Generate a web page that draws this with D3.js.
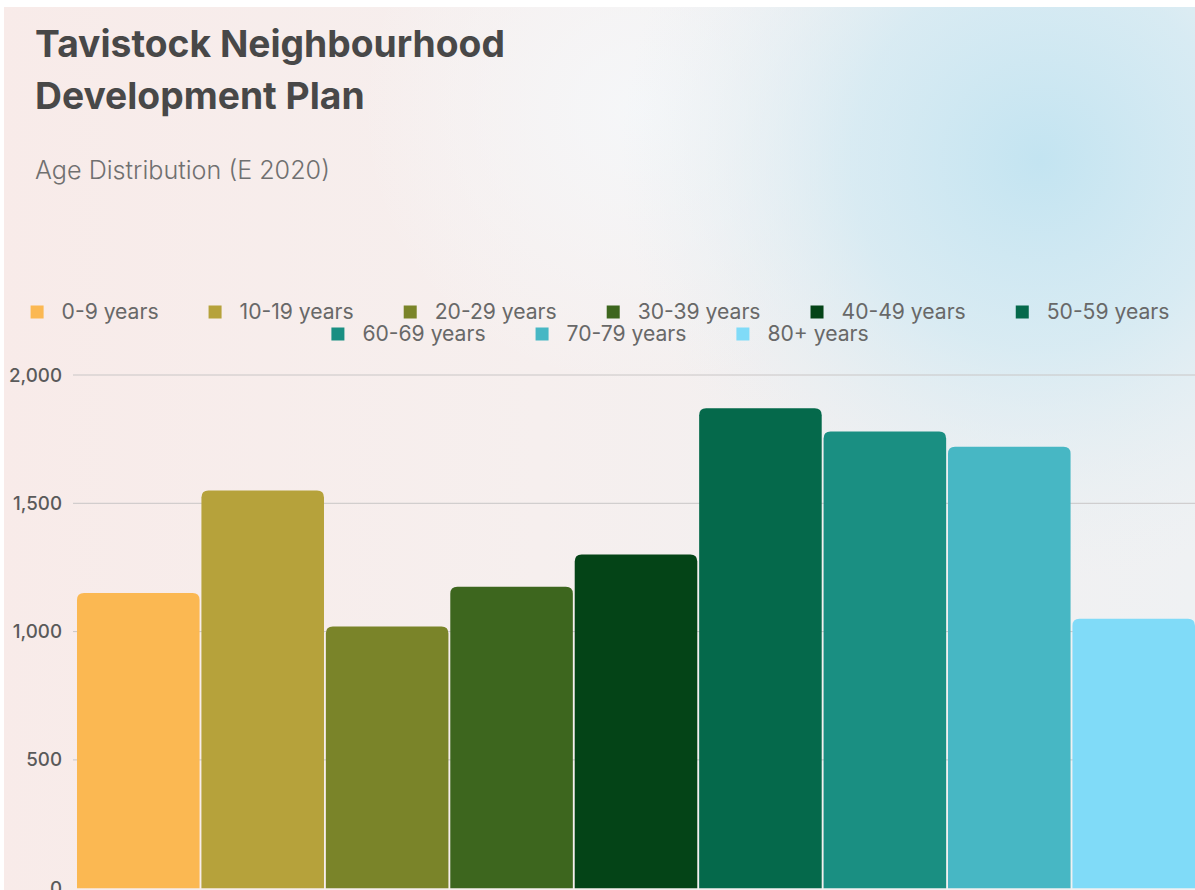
<!DOCTYPE html>
<html>
<head>
<meta charset="utf-8">
<script src="https://cdn.jsdelivr.net/npm/d3@7"></script>
<style>
  html, body { margin: 0; padding: 0; background: #ffffff; }
  svg { display: block; }
</style>
</head>
<body>
<svg id="chart" width="1195" height="890"></svg>
<script>
// ---- data ----
const categories = ["0-9 years", "10-19 years", "20-29 years", "30-39 years", "40-49 years",
                    "50-59 years", "60-69 years", "70-79 years", "80+ years"];
const values = [1150, 1550, 1020, 1175, 1300, 1870, 1780, 1720, 1050];
const colors = ["#fbb852", "#b6a23b", "#7a8429", "#3d661e", "#044417",
                "#05694b", "#1a8f82", "#47b7c4", "#80dbf8"];
const yTicks = [0, 500, 1000, 1500, 2000];
const titleLines = ["Tavistock Neighbourhood", "Development Plan"];
const subtitle = "Age Distribution (E 2020)";

// ---- setup ----
const W = 1195, H = 890;
const svg = d3.select("#chart");
const defs = svg.append("defs");

const rg = defs.append("radialGradient").attr("id", "blueBlob")
  .attr("gradientUnits", "userSpaceOnUse").attr("cx", 1040).attr("cy", 160).attr("r", 420);
rg.append("stop").attr("offset", "0%").attr("stop-color", "#c3e4f1").attr("stop-opacity", 1);
rg.append("stop").attr("offset", "45%").attr("stop-color", "#d0e9f3").attr("stop-opacity", 0.75);
rg.append("stop").attr("offset", "100%").attr("stop-color", "#e6eff3").attr("stop-opacity", 0);

const lg = defs.append("linearGradient").attr("id", "baseGrad")
  .attr("x1", 0).attr("y1", 0).attr("x2", 1).attr("y2", 0);
lg.append("stop").attr("offset", "0%").attr("stop-color", "#f8ebe9");
lg.append("stop").attr("offset", "45%").attr("stop-color", "#f6efee");
lg.append("stop").attr("offset", "100%").attr("stop-color", "#eff1f3");

const wg = defs.append("radialGradient").attr("id", "whiteBlob")
  .attr("gradientUnits", "userSpaceOnUse").attr("cx", 640).attr("cy", 110).attr("r", 280);
wg.append("stop").attr("offset", "0%").attr("stop-color", "#f5f7f9").attr("stop-opacity", 0.95);
wg.append("stop").attr("offset", "100%").attr("stop-color", "#f5f7f9").attr("stop-opacity", 0);

svg.append("rect").attr("width", W).attr("height", H).attr("fill", "url(#baseGrad)");
svg.append("rect").attr("width", W).attr("height", H).attr("fill", "url(#whiteBlob)");
svg.append("rect").attr("width", W).attr("height", H).attr("fill", "url(#blueBlob)");
// white margins at top and left
svg.append("rect").attr("x", 0).attr("y", 0).attr("width", W).attr("height", 7).attr("fill", "#ffffff");
svg.append("rect").attr("x", 0).attr("y", 0).attr("width", 4).attr("height", H).attr("fill", "#ffffff");

const FONT = "Inter, 'DejaVu Sans', sans-serif";

function fitText(sel, targetWidth) {
  const fs = parseFloat(sel.attr("font-size"));
  const w = sel.node().getComputedTextLength();
  sel.attr("font-size", fs * targetWidth / w);
}

// ---- title ----
const t1 = svg.append("text").attr("x", 35).attr("y", 57).text(titleLines[0])
  .attr("font-family", FONT).attr("font-weight", 700).attr("font-size", 34).attr("fill", "#484848");
fitText(t1, 470);
svg.append("text").attr("x", 35).attr("y", 109).text(titleLines[1])
  .attr("font-family", FONT).attr("font-weight", 700).attr("fill", "#484848")
  .attr("font-size", t1.attr("font-size"));
const st = svg.append("text").attr("x", 35).attr("y", 179).text(subtitle)
  .attr("font-family", FONT).attr("font-weight", 300).attr("font-size", 19).attr("fill", "#707070");
fitText(st, 295);

// ---- scales ----
const x = d3.scaleBand().domain(categories).range([76, 1196]).paddingInner(0.015).paddingOuter(0.008);
const y = d3.scaleLinear().domain([0, 2000]).range([888.2, 375]);
const color = d3.scaleOrdinal().domain(categories).range(colors);

// ---- gridlines ----
svg.append("g").selectAll("line").data(yTicks.filter(d => d > 0)).join("line")
  .attr("x1", 73).attr("x2", W)
  .attr("y1", d => y(d)).attr("y2", d => y(d))
  .attr("stroke", "#c9c6c6").attr("stroke-width", 1);

// ---- y axis ----
const yAxis = svg.append("g").attr("transform", "translate(62,0)")
  .call(d3.axisLeft(y).tickValues(yTicks).tickFormat(d3.format(",")).tickSize(0).tickPadding(0));
yAxis.select(".domain").remove();
const yt = yAxis.selectAll("text").attr("font-family", FONT).attr("font-size", 15)
  .attr("font-weight", 500).attr("fill", "#5a5a5a");
// widen tick labels so "1,500" is ~49px wide
const ref = yt.filter(d => d === 1500).node().getComputedTextLength();
yt.attr("font-size", 15 * 49 / ref);

// ---- bars ----
const r = 7;
function barPath(d, i) {
  const x0 = x(categories[i]), w = x.bandwidth();
  const y0 = y(d), y1 = y(0);
  return `M${x0},${y1} L${x0},${y0 + r} Q${x0},${y0} ${x0 + r},${y0} L${x0 + w - r},${y0} Q${x0 + w},${y0} ${x0 + w},${y0 + r} L${x0 + w},${y1} Z`;
}
svg.append("g").selectAll("path").data(values).join("path")
  .attr("d", barPath)
  .attr("fill", (d, i) => color(categories[i]));

// ---- legend ----
const legend = svg.append("g");
const items = legend.selectAll("g").data(categories).join("g");
items.append("rect").attr("width", 13).attr("height", 13).attr("y", -6.5)
  .attr("fill", d => color(d));
const ltext = items.append("text").attr("x", 31).attr("dy", "0.35em").text(d => d)
  .attr("font-family", FONT).attr("font-size", 16).attr("fill", "#686868");
const lw0 = ltext.nodes()[0].getComputedTextLength();
ltext.attr("font-size", 16 * 97 / lw0);
const gap = 50, maxRow = 1170;
const widths = ltext.nodes().map(n => 31 + n.getComputedTextLength());
const rows = [[]];
let cur = 0;
widths.forEach((w, i) => {
  const add = (rows[rows.length - 1].length ? gap : 0) + w;
  if (cur + add > maxRow) { rows.push([i]); cur = w; }
  else { rows[rows.length - 1].push(i); cur += add; }
});
const rowY = [312, 334];
rows.forEach((row, ri) => {
  const total = row.reduce((s, i) => s + widths[i], 0) + gap * (row.length - 1);
  let cx = 600 - total / 2;
  row.forEach(i => {
    d3.select(items.nodes()[i]).attr("transform", `translate(${cx},${rowY[ri]})`);
    cx += widths[i] + gap;
  });
});
</script>
</body>
</html>
